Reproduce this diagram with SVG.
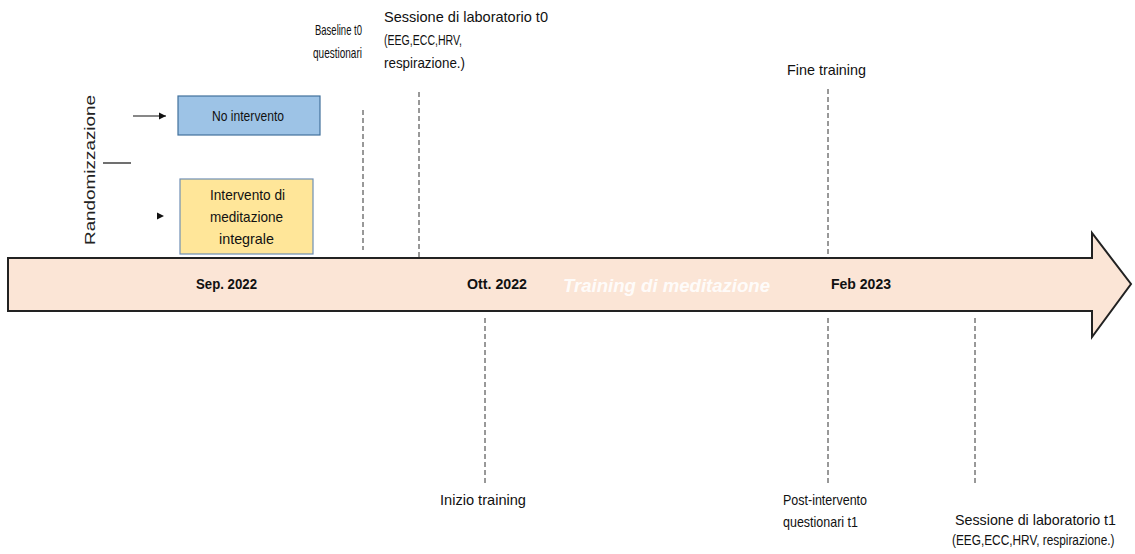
<svg xmlns="http://www.w3.org/2000/svg" width="1135" height="554" viewBox="0 0 1135 554">
<style>
.t{font-family:"Liberation Sans",Arial,sans-serif;font-size:15px;fill:#111}
.b{font-family:"Liberation Sans",Arial,sans-serif;font-size:15px;font-weight:bold;fill:#111}
.box{font-family:"Liberation Sans",Arial,sans-serif;font-size:15px;fill:#111}
.d{stroke:#333;stroke-width:1;stroke-dasharray:5,3;fill:none}
</style>
<defs>
<marker id="ah" markerWidth="8" markerHeight="8" refX="7" refY="4" orient="auto" markerUnits="userSpaceOnUse">
<path d="M0,0.5 L7,4 L0,7.5 Z" fill="#111"/>
</marker>
</defs>
<g id="timeline">
<path d="M8,258 H1092 V233 L1131,284 L1092,337 V311 H8 Z" fill="#FBE5D6" stroke="#222" stroke-width="2" stroke-linejoin="miter"/>
<text class="b" x="196" y="289" textLength="61" lengthAdjust="spacingAndGlyphs">Sep. 2022</text>
<text class="b" x="467" y="289" textLength="60" lengthAdjust="spacingAndGlyphs">Ott. 2022</text>
<text class="b" x="831" y="289" textLength="60" lengthAdjust="spacingAndGlyphs">Feb 2023</text>
<text x="563" y="292" font-family="'Liberation Sans',Arial,sans-serif" font-size="19" font-style="italic" font-weight="bold" fill="#FFFFFF" fill-opacity="0.9" textLength="207" lengthAdjust="spacingAndGlyphs">Training di meditazione</text>
</g>
<g id="randomizzazione">
<text x="95" y="170" transform="rotate(-90 95 170)" text-anchor="middle" font-family="'Liberation Sans',Arial,sans-serif" font-size="15" fill="#222" textLength="150" lengthAdjust="spacingAndGlyphs">Randomizzazione</text>
</g>
<g id="no-intervento">
<rect x="178" y="96" width="142" height="39" fill="#9DC3E6" stroke="#41719C" stroke-width="1.2"/>
<text class="box" x="212" y="121" textLength="72" lengthAdjust="spacingAndGlyphs">No intervento</text>
</g>
<g id="intervento">
<rect x="180" y="179" width="133" height="75" fill="#FFE699" stroke="#6F8FB5" stroke-width="1.2"/>
<text class="box" x="210" y="200" textLength="75" lengthAdjust="spacingAndGlyphs">Intervento di</text>
<text class="box" x="210" y="222" textLength="73" lengthAdjust="spacingAndGlyphs">meditazione</text>
<text class="box" x="219" y="244" textLength="55" lengthAdjust="spacingAndGlyphs">integrale</text>
</g>
<g id="baseline-t0">
<text class="t" x="315" y="35" textLength="47" lengthAdjust="spacingAndGlyphs">Baseline t0</text>
<text class="t" x="313" y="58" textLength="49" lengthAdjust="spacingAndGlyphs">questionari</text>
</g>
<g id="sessione-t0">
<text class="t" x="384" y="22" textLength="164" lengthAdjust="spacingAndGlyphs">Sessione di laboratorio t0</text>
<text class="t" x="384" y="45" textLength="78" lengthAdjust="spacingAndGlyphs">(EEG,ECC,HRV,</text>
<text class="t" x="384" y="68" textLength="81" lengthAdjust="spacingAndGlyphs">respirazione.)</text>
</g>
<g id="fine-training">
<text class="t" x="787" y="75" textLength="79" lengthAdjust="spacingAndGlyphs">Fine training</text>
</g>
<g id="inizio-training">
<text class="t" x="440" y="505" textLength="86" lengthAdjust="spacingAndGlyphs">Inizio training</text>
</g>
<g id="post-intervento">
<text class="t" x="783" y="505" textLength="84" lengthAdjust="spacingAndGlyphs">Post-intervento</text>
<text class="t" x="783" y="527" textLength="75" lengthAdjust="spacingAndGlyphs">questionari t1</text>
</g>
<g id="sessione-t1">
<text class="t" x="955" y="525" textLength="161" lengthAdjust="spacingAndGlyphs">Sessione di laboratorio t1</text>
<text class="t" transform="translate(952 545) scale(0.79 1)" x="0" y="0">(EEG,ECC,HRV, respirazione.)</text>
</g>
<g id="connectors">
<line x1="133" y1="116" x2="166" y2="116" stroke="#111" stroke-width="1.2" marker-end="url(#ah)"/>
<line x1="103" y1="163" x2="131" y2="163" stroke="#111" stroke-width="1.2"/>
<path d="M157,212.5 L164,216 L157,219.5 Z" fill="#111"/>
<line class="d" x1="363" y1="110" x2="363" y2="250"/>
<line class="d" x1="419" y1="92" x2="419" y2="258"/>
<line class="d" x1="828" y1="89" x2="828" y2="258"/>
<line class="d" x1="485" y1="318" x2="485" y2="484"/>
<line class="d" x1="828" y1="318" x2="828" y2="484"/>
<line class="d" x1="975" y1="318" x2="975" y2="484"/>
</g>
</svg>
